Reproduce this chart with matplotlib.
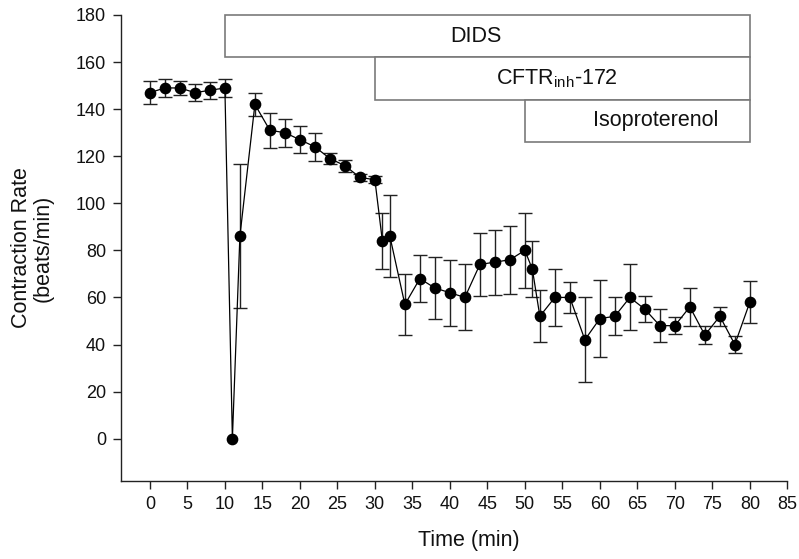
import matplotlib
matplotlib.use("Agg")
import matplotlib.pyplot as plt
from matplotlib.patches import Rectangle

plt.rcParams['font.family'] = ['Liberation Sans', 'DejaVu Sans']
plt.rcParams['mathtext.default'] = 'regular'

nan = float('nan')

# Data
times = [0, 2, 4, 6, 8, 10, 11, 12, 14, 16, 18, 20, 22, 24, 26, 28, 30, 31, 32,
         34, 36, 38, 40, 42, 44, 46, 48, 50, 51, 52, 54, 56, 58, 60, 62, 64, 66,
         68, 70, 72, 74, 76, 78, 80]
rate = [147, 149, 149, 147, 148, 149, 0, 86, 142, 131, 130, 127, 124, 119, 116,
        111, 110, 84, 86, 57, 68, 64, 62, 60, 74, 75, 76, 80, 72, 52, 60, 60,
        42, 51, 52, 60, 55, 48, 48, 56, 44, 52, 40, 58]
err = [5, 4, 3, 3.5, 3.5, 4, nan, 30.5, 5, 7.5, 6, 5.7, 6, 2.5, 2.5, 1.5, 1.5,
       12, 17.5, 13, 10, 13, 14, 14, 13.5, 13.8, 14.5, 16, 12, 11, 12, 6.7,
       18, 16.4, 8, 14, 5.6, 6.9, 3.5, 8, 3.7, 4, 3.8, 8.8]

# Treatment bars at the top
treat_names = ['DIDS', 'CFTR$_{inh}$-172', 'Isoproterenol']
treat_start = [10, 30, 50]
treat_end = [80, 80, 80]
treat_top = [180, 162, 144]
treat_bottom = [162, 144, 126]
treat_label_x = [43.5, 54.3, 67.5]

fig = plt.figure(figsize=(7.99, 5.59), dpi=100)
ax = fig.add_axes([0.151, 0.1395, 0.8344, 0.8337])

##### treatment boxes #####
for name, x0, x1, y1, y0, tx in zip(treat_names, treat_start, treat_end,
                                    treat_top, treat_bottom, treat_label_x):
    ax.add_patch(Rectangle((x0, y0), x1 - x0, y1 - y0, facecolor='white',
                           edgecolor='#7a7a7a', lw=1.2, zorder=1, clip_on=False))
    ax.text(tx, (y0 + y1) / 2, name, ha='center', va='center',
            fontsize=15.5, color='#111111', zorder=2)

##### data #####
ax.errorbar(times, rate, yerr=err, fmt='o-', color='black', ms=7.4, lw=0.9,
            ecolor='#222222', elinewidth=1.0, capsize=4.8, capthick=1.0,
            zorder=3, clip_on=False)

ax.set_xlim(-3.9, 85)
ax.set_ylim(-18, 180)
ax.set_xticks(range(0, 86, 5))
ax.set_yticks(range(0, 181, 20))

for side in ['top', 'right']:
    ax.spines[side].set_visible(False)
for side in ['left', 'bottom']:
    ax.spines[side].set_color('#222222')
    ax.spines[side].set_linewidth(1.0)

ax.tick_params(direction='out', length=5.5, width=1.0, color='#222222',
               labelsize=13, pad=5, labelcolor='#111111')

ax.set_xlabel('Time (min)', fontsize=15.5, color='#111111')
ax.xaxis.set_label_coords(0.522, -0.105)
ax.xaxis.label.set_va('top')
ax.set_ylabel('Contraction Rate\n(beats/min)', fontsize=15.5, color='#111111',
              linespacing=1.05)
ax.yaxis.set_label_coords(-0.1, 0.5)

fig.savefig('out.png', dpi=100)
